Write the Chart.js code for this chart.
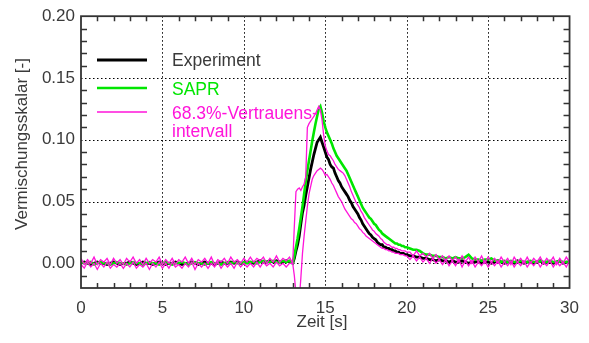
<!DOCTYPE html>
<html>
<head>
<meta charset="utf-8">
<script src="https://cdn.jsdelivr.net/npm/chart.js@4.4.1/dist/chart.umd.min.js"></script>
<style>
  html, body { margin: 0; padding: 0; background: #fff; }
  #wrap { width: 589px; height: 343px; }
</style>
</head>
<body>
<div id="wrap"><canvas id="c" width="589" height="343"></canvas></div>
<script>
// Zeitachse [s]
const zeit = [
  0, 0.2, 0.4, 0.6, 0.8, 1, 1.2, 1.4, 1.6, 1.8, 2, 2.2, 2.4,
  2.6, 2.8, 3, 3.2, 3.4, 3.6, 3.8, 4, 4.2, 4.4, 4.6, 4.8, 5,
  5.2, 5.4, 5.6, 5.8, 6, 6.2, 6.4, 6.6, 6.8, 7, 7.2, 7.4, 7.6,
  7.8, 8, 8.2, 8.4, 8.6, 8.8, 9, 9.2, 9.4, 9.6, 9.8, 10, 10.2,
  10.4, 10.6, 10.8, 11, 11.2, 11.4, 11.6, 11.8, 12, 12.2, 12.4, 12.6, 12.8,
  13, 13.1, 13.2, 13.3, 13.4, 13.5, 13.6, 13.7, 13.8, 13.9,
  14, 14.1, 14.2, 14.3, 14.4, 14.5, 14.6, 14.7, 14.8, 14.9,
  15, 15.1, 15.2, 15.3, 15.4, 15.5, 15.6, 15.7, 15.8, 15.9,
  16, 16.1, 16.2, 16.3, 16.4, 16.5, 16.6, 16.7, 16.8, 16.9,
  17, 17.1, 17.2, 17.3, 17.4, 17.5, 17.6, 17.7, 17.8, 17.9,
  18, 18.1, 18.2, 18.3, 18.4, 18.5, 18.6, 18.7, 18.8, 18.9,
  19, 19.1, 19.2, 19.3, 19.4, 19.5, 19.6, 19.7, 19.8, 19.9,
  20,
  20.2, 20.4, 20.6, 20.8, 21, 21.2, 21.4, 21.6, 21.8, 22,
  22.2, 22.4, 22.6, 22.8, 23, 23.2, 23.4, 23.6, 23.8, 24,
  24.2, 24.4, 24.6, 24.8, 25, 25.2, 25.4, 25.6, 25.8, 26,
  26.2, 26.4, 26.6, 26.8, 27, 27.2, 27.4, 27.6, 27.8, 28,
  28.2, 28.4, 28.6, 28.8, 29, 29.2, 29.4, 29.6, 29.8, 30
];

// Vermischungsskalar, Messung
const experiment = [
  0.000, 0.001, 0.000, -0.001, 0.000, 0.001, 0.000, 0.000, -0.001, 0.000, 0.001, 0.000, -0.001,
  0.000, 0.000, 0.001, 0.000, -0.001, 0.000, 0.001, 0.000, 0.000, -0.001, 0.000, 0.001, 0.000,
  -0.001, 0.000, 0.000, 0.001, 0.000, -0.001, 0.000, 0.000, 0.001, 0.000, -0.001, 0.000, 0.001,
  0.000, 0.000, -0.001, 0.000, 0.001, 0.000, 0.000, 0.001, 0.000, 0.001, 0.000, 0.000, 0.001,
  0.001, 0.000, 0.001, 0.002, 0.001, 0.001, 0.002, 0.001, 0.002, 0.001, 0.001, 0.002, 0.001,
  0.000, 0.004, 0.010, 0.015, 0.022, 0.032, 0.041, 0.047, 0.055, 0.062,
  0.069, 0.076, 0.082, 0.088, 0.093, 0.098, 0.100, 0.102, 0.098, 0.094,
  0.090, 0.086, 0.084, 0.080, 0.078, 0.077, 0.073, 0.070, 0.067, 0.065,
  0.062, 0.060, 0.058, 0.056, 0.054, 0.051, 0.049, 0.046, 0.044, 0.042,
  0.040, 0.037, 0.035, 0.032, 0.030, 0.028, 0.026, 0.024, 0.023, 0.021,
  0.020, 0.019, 0.017, 0.016, 0.015, 0.015, 0.013, 0.013, 0.012, 0.012,
  0.011, 0.011, 0.010, 0.010, 0.009, 0.009, 0.008, 0.008, 0.008, 0.007,
  0.007,
  0.006, 0.006, 0.005, 0.005, 0.004, 0.004, 0.003, 0.003, 0.002, 0.003,
  0.002, 0.002, 0.001, 0.002, 0.001, 0.001, 0.002, 0.001, 0.000, 0.001,
  0.001, 0.002, 0.000, 0.001, 0.001, 0.000, 0.001, 0.002, 0.001, 0.000,
  0.001, 0.001, 0.000, 0.002, 0.001, 0.000, 0.001, 0.001, 0.000, 0.001,
  0.002, 0.000, 0.001, 0.001, 0.000, 0.001, 0.002, 0.000, 0.001, 0.001
];

// Vermischungsskalar, Simulation (SAPR)
const sapr = [
  0.001, 0.000, 0.000, 0.001, -0.001, 0.000, 0.001, 0.000, 0.000, -0.001, 0.000, 0.001, 0.000,
  0.000, -0.001, 0.000, 0.001, 0.000, 0.000, -0.001, 0.000, 0.001, 0.000, 0.000, -0.001, 0.000,
  0.001, 0.000, -0.001, 0.000, 0.000, 0.001, 0.000, -0.001, 0.000, 0.001, 0.000, 0.000, -0.001,
  0.000, 0.001, 0.000, 0.000, -0.001, 0.000, 0.001, 0.000, 0.001, 0.000, 0.000, 0.001, 0.000,
  0.001, 0.001, 0.000, 0.001, 0.002, 0.001, 0.001, 0.002, 0.001, 0.001, 0.002, 0.001, 0.002,
  0.000, 0.006, 0.013, 0.020, 0.028, 0.037, 0.046, 0.056, 0.066, 0.075,
  0.083, 0.091, 0.099, 0.106, 0.113, 0.119, 0.125, 0.127, 0.122, 0.115,
  0.110, 0.106, 0.103, 0.100, 0.097, 0.093, 0.090, 0.087, 0.085, 0.083,
  0.081, 0.079, 0.077, 0.075, 0.072, 0.069, 0.066, 0.063, 0.060, 0.057,
  0.054, 0.051, 0.048, 0.045, 0.043, 0.041, 0.039, 0.037, 0.036, 0.034,
  0.032, 0.031, 0.029, 0.027, 0.026, 0.024, 0.023, 0.022, 0.021, 0.020,
  0.019, 0.018, 0.017, 0.016, 0.016, 0.015, 0.015, 0.014, 0.014, 0.013,
  0.013,
  0.012, 0.011, 0.011, 0.010, 0.008, 0.007, 0.007, 0.006, 0.006, 0.005,
  0.005, 0.004, 0.005, 0.004, 0.005, 0.004, 0.004, 0.005, 0.007, 0.004,
  0.003, 0.003, 0.002, 0.003, 0.003, 0.004, 0.002, 0.002, 0.001, 0.002,
  0.001, 0.002, 0.001, 0.001, 0.002, 0.001, 0.001, 0.002, 0.001, 0.001,
  0.002, 0.001, 0.001, 0.002, 0.001, 0.001, 0.002, 0.001, 0.001, 0.001
];

// 68.3%-Vertrauensintervall, obere Grenze
const vertrauenOben = [
  0.004, -0.001, 0.003, 0.000, 0.005, -0.001, 0.003, 0.001, 0.004, -0.001, 0.004, 0.000, 0.003,
  -0.001, 0.004, 0.001, 0.005, 0.000, 0.003, -0.001, 0.004, 0.000, 0.003, 0.001, 0.005, -0.001,
  0.003, 0.000, 0.004, -0.001, 0.003, 0.001, 0.005, 0.000, 0.004, -0.001, 0.003, 0.001, 0.004,
  0.000, 0.005, -0.001, 0.003, 0.001, 0.004, 0.000, 0.005, 0.001, 0.003, 0.000, 0.004, 0.001,
  0.005, 0.001, 0.004, 0.002, 0.005, 0.000, 0.004, 0.001, 0.006, 0.001, 0.004, 0.002, 0.005,
  0.000, 0.030, 0.058, 0.060, 0.061, 0.059, 0.062, 0.064, 0.070, 0.110,
  0.113, 0.115, 0.117, 0.119, 0.121, 0.124, 0.127, 0.124, 0.116, 0.104,
  0.095, 0.091, 0.088, 0.087, 0.085, 0.083, 0.080, 0.078, 0.076, 0.075,
  0.074, 0.073, 0.071, 0.068, 0.065, 0.062, 0.058, 0.055, 0.052, 0.049,
  0.047, 0.045, 0.042, 0.040, 0.037, 0.035, 0.033, 0.031, 0.029, 0.027,
  0.026, 0.024, 0.023, 0.022, 0.020, 0.019, 0.017, 0.016, 0.015, 0.015,
  0.014, 0.013, 0.013, 0.012, 0.012, 0.011, 0.011, 0.010, 0.010, 0.010,
  0.009,
  0.009, 0.006, 0.010, 0.006, 0.008, 0.005, 0.008, 0.004, 0.007, 0.003,
  0.006, 0.002, 0.006, 0.002, 0.005, 0.001, 0.006, 0.001, 0.005, 0.000,
  0.005, 0.001, 0.006, 0.000, 0.005, 0.001, 0.004, 0.000, 0.005, 0.001,
  0.004, -0.001, 0.005, 0.001, 0.004, 0.000, 0.005, 0.000, 0.004, 0.001,
  0.005, 0.000, 0.004, 0.001, 0.005, -0.001, 0.004, 0.000, 0.005, 0.001
];

// 68.3%-Vertrauensintervall, untere Grenze
const vertrauenUnten = [
  -0.001, -0.004, 0.001, -0.003, 0.000, -0.005, 0.000, -0.003, 0.001, -0.004, -0.001, -0.003, 0.000,
  -0.004, 0.000, -0.003, 0.001, -0.004, -0.001, -0.003, 0.000, -0.005, 0.000, -0.003, 0.001, -0.004,
  0.000, -0.004, 0.001, -0.003, -0.001, -0.004, 0.000, -0.003, 0.001, -0.005, 0.000, -0.003, 0.000,
  -0.004, 0.000, -0.003, 0.001, -0.004, 0.000, -0.003, 0.000, -0.004, 0.001, -0.003, 0.000, -0.003,
  0.000, -0.003, 0.001, -0.003, 0.001, -0.002, 0.000, -0.003, 0.001, -0.002, 0.000, -0.003, 0.000,
  0.000, -0.010, -0.024, -0.032, -0.030, -0.012, 0.008, 0.022, 0.034, 0.046,
  0.056, 0.062, 0.068, 0.071, 0.073, 0.075, 0.076, 0.077, 0.076, 0.074,
  0.071, 0.072, 0.070, 0.068, 0.065, 0.063, 0.060, 0.057, 0.054, 0.052,
  0.050, 0.047, 0.044, 0.042, 0.040, 0.038, 0.036, 0.035, 0.033, 0.032,
  0.030, 0.028, 0.027, 0.025, 0.024, 0.022, 0.021, 0.020, 0.019, 0.018,
  0.017, 0.016, 0.015, 0.014, 0.013, 0.012, 0.012, 0.011, 0.011, 0.010,
  0.010, 0.009, 0.009, 0.008, 0.008, 0.008, 0.007, 0.007, 0.007, 0.006,
  0.006,
  0.003, 0.006, 0.002, 0.005, 0.001, 0.004, 0.000, 0.004, 0.000, 0.003,
  -0.001, 0.003, -0.002, 0.002, -0.002, 0.003, -0.003, 0.002, -0.002, 0.002,
  -0.003, 0.001, -0.002, 0.002, -0.003, 0.001, -0.002, 0.002, -0.003, 0.001,
  -0.002, 0.002, -0.003, 0.001, -0.002, 0.002, -0.003, 0.001, -0.002, 0.002,
  -0.003, 0.001, -0.002, 0.002, -0.003, 0.001, -0.002, 0.001, -0.003, 0.002
];

const xTicks = [0, 5, 10, 15, 20, 25, 30];
const yTicks = [0.00, 0.05, 0.10, 0.15, 0.20];
const xTitel = 'Zeit [s]';
const yTitel = 'Vermischungsskalar [-]';
const legendeExperiment = ['Experiment'];
const legendeSapr = ['SAPR'];
const legendeVertrauen = ['68.3%-Vertrauens-', 'intervall'];

const SCHRIFT = "'Liberation Sans', Arial, sans-serif";
const TEXTFARBE = '#3a3a3a';
const GRUEN = '#00e600';
const MAGENTA = '#ff14da';

const punkte = werte => zeit.map((t, i) => ({ x: t, y: werte[i] }));

// Rahmen, Gitter, Teilstriche, Legende und Achsentitel
const rahmenPlugin = {
  id: 'rahmen',
  beforeDatasetsDraw(chart) {
    const { ctx, chartArea: a, scales: { x, y } } = chart;
    ctx.save();
    ctx.strokeStyle = '#000';
    ctx.lineWidth = 1;
    ctx.setLineDash([1.5, 2.5]);
    xTicks.forEach(v => {
      if (v <= x.min || v >= x.max) return;
      const px = Math.round(x.getPixelForValue(v)) + 0.5;
      ctx.beginPath(); ctx.moveTo(px, a.top); ctx.lineTo(px, a.bottom); ctx.stroke();
    });
    yTicks.forEach(v => {
      if (v <= y.min || v >= y.max) return;
      const py = Math.round(y.getPixelForValue(v)) + 0.5;
      ctx.beginPath(); ctx.moveTo(a.left, py); ctx.lineTo(a.right, py); ctx.stroke();
    });
    ctx.restore();
  },
  afterDatasetsDraw(chart) {
    const { ctx, chartArea: a, scales: { x, y } } = chart;
    ctx.save();
    ctx.setLineDash([]);
    ctx.strokeStyle = '#333';
    ctx.lineWidth = 1.5;
    // Teilstriche (nach innen)
    for (let v = 1; v < 30; v++) {
      if (v % 5 === 0) continue;
      const px = Math.round(x.getPixelForValue(v)) + 0.5;
      ctx.beginPath();
      ctx.moveTo(px, a.bottom); ctx.lineTo(px, a.bottom - 5);
      ctx.moveTo(px, a.top); ctx.lineTo(px, a.top + 5);
      ctx.stroke();
    }
    for (let k = -1; k < 20; k++) {
      if (k % 5 === 0) continue;
      const py = Math.round(y.getPixelForValue(k / 100)) + 0.5;
      ctx.beginPath();
      ctx.moveTo(a.left, py); ctx.lineTo(a.left + 6, py);
      ctx.moveTo(a.right, py); ctx.lineTo(a.right - 6, py);
      ctx.stroke();
    }
    // Rahmen
    ctx.lineWidth = 1.8;
    ctx.strokeRect(a.left, a.top, a.right - a.left, a.bottom - a.top);

    // Legende
    const ds = chart.data.datasets;
    const eintraege = [
      { d: ds[0], text: legendeExperiment, farbe: TEXTFARBE, ly: 60, ty: 66 },
      { d: ds[1], text: legendeSapr, farbe: GRUEN, ly: 88, ty: 94.5 },
      { d: ds[2], text: legendeVertrauen, farbe: MAGENTA, ly: 112, ty: 119 }
    ];
    ctx.font = '17.5px ' + SCHRIFT;
    ctx.textAlign = 'left';
    ctx.textBaseline = 'alphabetic';
    eintraege.forEach(e => {
      ctx.strokeStyle = e.d.borderColor;
      ctx.lineWidth = e.d.borderWidth;
      ctx.beginPath(); ctx.moveTo(97, e.ly); ctx.lineTo(147, e.ly); ctx.stroke();
      ctx.fillStyle = e.farbe;
      e.text.forEach((t, i) => ctx.fillText(t, 172, e.ty + i * 18));
    });

    // Achsentitel
    ctx.font = '17px ' + SCHRIFT;
    ctx.fillStyle = TEXTFARBE;
    ctx.textAlign = 'center';
    ctx.fillText(xTitel, 322, 327);
    ctx.translate(27, 144);
    ctx.rotate(-Math.PI / 2);
    ctx.fillText(yTitel, 0, 0);
    ctx.restore();
  }
};

const tickFont = { family: SCHRIFT, size: 17 };

new Chart(document.getElementById('c'), {
  type: 'line',
  data: {
    datasets: [
      { label: 'Experiment', data: punkte(experiment), borderColor: '#000', borderWidth: 2.8, order: 2 },
      { label: 'SAPR', data: punkte(sapr), borderColor: GRUEN, borderWidth: 2.6, order: 1 },
      { label: '68.3%-Vertrauensintervall', data: punkte(vertrauenOben), borderColor: MAGENTA, borderWidth: 1.3, order: 0 },
      { label: '68.3%-Vertrauensintervall (unten)', data: punkte(vertrauenUnten), borderColor: MAGENTA, borderWidth: 1.3, order: 0 }
    ]
  },
  options: {
    responsive: false,
    animation: false,
    devicePixelRatio: 1,
    layout: { padding: { left: 0, right: 14, top: 15, bottom: 0 } },
    elements: { point: { radius: 0 }, line: { tension: 0, fill: false } },
    plugins: { legend: { display: false }, tooltip: { enabled: false } },
    scales: {
      x: {
        type: 'linear', min: 0, max: 30,
        afterBuildTicks: s => { s.ticks = xTicks.map(v => ({ value: v })); },
        afterFit: s => { s.height = 55; },
        grid: { display: false, drawTicks: false },
        border: { display: false },
        ticks: { padding: 10, font: tickFont, color: TEXTFARBE, maxRotation: 0, autoSkip: false,
                 callback: v => String(v) }
      },
      y: {
        type: 'linear', min: -0.02, max: 0.20,
        afterBuildTicks: s => { s.ticks = yTicks.map(v => ({ value: v })); },
        afterFit: s => { s.width = 81; },
        grid: { display: false, drawTicks: false },
        border: { display: false },
        ticks: { padding: 6, font: tickFont, color: TEXTFARBE, autoSkip: false,
                 callback: v => v.toFixed(2) }
      }
    }
  },
  plugins: [rahmenPlugin]
});
</script>
</body>
</html>
